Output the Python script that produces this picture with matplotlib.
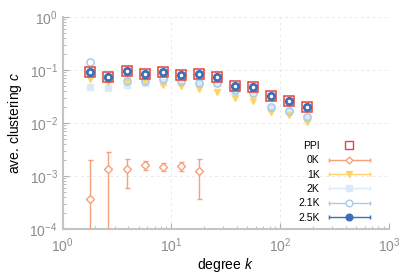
import numpy as np
import matplotlib
matplotlib.use("Agg")
import matplotlib.pyplot as plt
from matplotlib.lines import Line2D
from matplotlib.legend_handler import HandlerLine2D

plt.rcParams["font.family"] = ["Liberation Sans", "DejaVu Sans"]
plt.rcParams["mathtext.fontset"] = "custom"
plt.rcParams["mathtext.rm"] = "Liberation Sans"
plt.rcParams["mathtext.it"] = "Liberation Sans:italic"

# degree bins (log spaced)
degree = [1.78, 2.61, 3.91, 5.72, 8.37, 12.3, 17.9, 26.2, 38.5, 56.3, 82.4, 121, 177]

clust_ppi = [0.093, 0.0748, 0.0958, 0.084, 0.093, 0.0815, 0.084, 0.0728, 0.049, 0.0484, 0.0327, 0.0263, 0.0203]
clust_1k = [0.0668, 0.060, 0.062, 0.063, 0.052, 0.0499, 0.0432, 0.039, 0.030, 0.026, 0.0159, 0.0142, 0.0106]
clust_2k = [0.0484, 0.0451, 0.052, 0.056, 0.060, 0.060, 0.056, 0.056, 0.040, 0.036, 0.019, 0.0165, 0.0125]
clust_21k = [0.1435, 0.075, 0.062, 0.0628, 0.0668, 0.0628, 0.0576, 0.0576, 0.041, 0.0373, 0.0198, 0.0171, 0.0128]
clust_25k = [0.093, 0.0748, 0.0958, 0.084, 0.093, 0.0815, 0.084, 0.0728, 0.049, 0.0484, 0.0327, 0.0263, 0.0203]

# 0K only has the first seven bins
clust_0k = [3.63e-4, 1.355e-3, 1.337e-3, 1.61e-3, 1.50e-3, 1.56e-3, 1.23e-3]
err_0k = [1.64e-3, 1.45e-3, 0.73e-3, 0.33e-3, 0.24e-3, 0.30e-3, 0.86e-3]

c_ppi = "#e2433c"
c_0k = "#f5a27c"
c_1k = "#fdd36a"
c_2k = "#d9ebf8"
c_21k = "#a8cae6"
c_25k = "#3d6fb6"
grey = "#8c8c8c"

fig = plt.figure(figsize=(4.15, 2.77), dpi=100)
ax = fig.add_axes([0.151, 0.173, 0.786, 0.766])

ax.plot(degree, clust_2k, "s", ms=4.5, color=c_2k, mec=c_2k, zorder=2)
ax.plot(degree, clust_1k, "v", ms=4.5, color=c_1k, mec=c_1k, zorder=3)
ax.plot(degree, clust_21k, "o", ms=5.2, mfc="none", mec=c_21k, mew=1.1, zorder=3)
ax.plot(degree[:len(clust_0k)], clust_0k, "D", ms=4, mfc="white", mec=c_0k, mew=1.0, zorder=4)
ax.errorbar(degree[:len(clust_0k)], clust_0k, yerr=err_0k, fmt="none",
            ecolor=c_0k, elinewidth=1.0, capsize=1.8, capthick=1.0, zorder=3)
ax.plot(degree, clust_ppi, "s", ms=7.2, mfc="none", mec=c_ppi, mew=1.1, zorder=5)
ax.plot(degree, clust_25k, "o", ms=5.6, color=c_25k, mec=c_25k, zorder=6)
ax.plot(degree, clust_25k, "o", ms=1.5, color="white", mec="white", zorder=7)

ax.set_xscale("log")
ax.set_yscale("log")
ax.set_xlim(1, 1000)
ax.set_ylim(1e-4, 1)

ax.grid(True, which="major", ls=(0, (3, 3)), color="#ebebeb", lw=0.7)
for s in ["top", "right"]:
    ax.spines[s].set_visible(False)
for s in ["left", "bottom"]:
    ax.spines[s].set_color("#c4c4c4")
    ax.spines[s].set_linewidth(1.5)
ax.tick_params(which="both", direction="in", colors="#b0b0b0", labelcolor=grey, labelsize=10)
ax.tick_params(which="major", length=4, width=0.8)
ax.tick_params(which="minor", length=2, width=0.6)
ax.tick_params(axis="x", pad=5)

ax.set_xlabel("degree $k$", fontsize=10, labelpad=1)
ax.set_ylabel("ave. clustering $c$", fontsize=10, labelpad=4)

# legend with horizontal caps like the original
handles = []
hmap = {}
h = Line2D([], [], ls="none", marker="s", ms=6, mfc="none", mec=c_ppi, mew=1.0)
handles.append(h)
styles = [(c_0k, "D", 3.5, "white"), (c_1k, "v", 4, c_1k), (c_2k, "s", 4.5, c_2k),
          (c_21k, "o", 4.8, "white"), (c_25k, "o", 4.8, c_25k)]
for col, mk, ms, fc in styles:
    cap = Line2D([], [], color=col, lw=1.0, marker="|", ms=3, mew=1.0)
    mark = Line2D([], [], ls="none", marker=mk, ms=ms, mfc=fc, mec=col, mew=1.0)
    hmap[cap] = HandlerLine2D(numpoints=2, marker_pad=0)
    hmap[mark] = HandlerLine2D(numpoints=1)
    handles.append((cap, mark))
labels = ["PPI", "0K", "1K", "2K", "2.1K", "2.5K"]
ax.legend(handles, labels, handler_map=hmap, loc="lower right", frameon=False,
          markerfirst=False, fontsize=7.5, handlelength=3.9, labelspacing=0.42,
          handletextpad=0.9, borderaxespad=0.2, bbox_to_anchor=(0.96, 0.0))

fig.savefig("out.png", dpi=100)
